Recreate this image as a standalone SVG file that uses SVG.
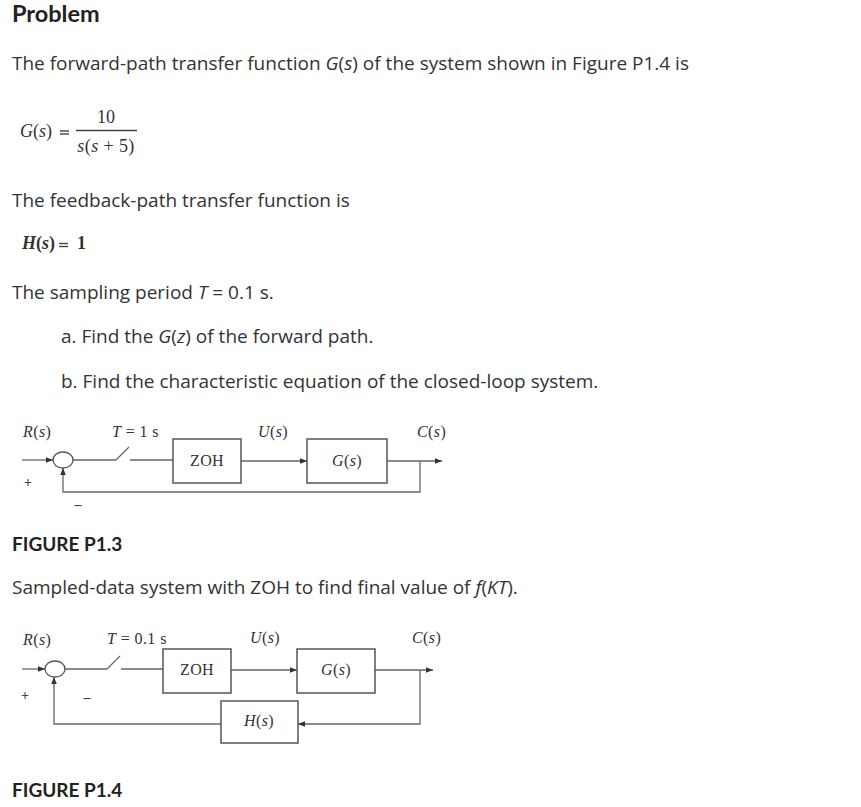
<svg xmlns="http://www.w3.org/2000/svg" width="861" height="807" viewBox="0 0 861 807">
<defs>
<marker id="ah" viewBox="0 0 10 10" refX="10" refY="5" markerWidth="7" markerHeight="7" markerUnits="userSpaceOnUse" orient="auto"><path d="M0,1 L10,5 L0,9 Z" fill="#333"/></marker>
</defs>
<style>
.body{font-family:"Open Sans",Lato,"Noto Sans",sans-serif;font-size:19px;fill:#333}
.bold{font-family:Lato,"Open Sans",sans-serif;font-size:19px;font-weight:bold;fill:#222}
.m{font-family:"Liberation Serif","DejaVu Serif",serif;font-size:18px;fill:#333}
.d{font-family:"Liberation Serif","DejaVu Serif",serif;font-size:16px;letter-spacing:0.4px;fill:#333}
.pm{font-family:"Liberation Serif","DejaVu Serif",serif;font-size:14px;font-weight:bold;fill:#444}
.i{font-style:italic}
.box{fill:#fff;stroke:#555;stroke-width:1.5}
.ln{fill:none;stroke:#666;stroke-width:1.3}
.eqb{stroke:#444;stroke-width:1.4}
</style>
<rect width="861" height="807" fill="#fff"/>
<text class="bold" x="12" y="22" style="font-size:23.5px">Problem</text>
<text class="body" x="12" y="70">The forward-path transfer function <tspan class="i">G</tspan>(<tspan class="i">s</tspan>) of the system shown in Figure P1.4 is</text>
<g id="eq-g">
<text class="m" x="20" y="137"><tspan class="i">G</tspan>(<tspan class="i">s</tspan>)</text>
<line class="eqb" x1="60" y1="131" x2="69" y2="131"/>
<line class="eqb" x1="60" y1="134" x2="69" y2="134"/>
<text class="m" x="106" y="123" text-anchor="middle">10</text>
<line x1="76" y1="130.5" x2="137" y2="130.5" stroke="#444" stroke-width="1.3"/>
<text class="m" x="106" y="152" text-anchor="middle" letter-spacing="0.4"><tspan class="i">s</tspan>(<tspan class="i">s</tspan> + 5)</text>
</g>
<text class="body" x="12" y="207">The feedback-path transfer function is</text>
<g id="eq-h">
<text class="m" x="22" y="249" style="font-weight:bold"><tspan class="i">H</tspan>(<tspan class="i">s</tspan>)</text>
<line class="eqb" x1="59" y1="243.5" x2="68" y2="243.5"/>
<line class="eqb" x1="59" y1="246.5" x2="68" y2="246.5"/>
<text class="m" x="77" y="249" style="font-weight:bold">1</text>
</g>
<text class="body" x="12" y="299">The sampling period <tspan class="i">T</tspan> = 0.1 s.</text>
<text class="body" x="61" y="343">a. Find the <tspan class="i">G</tspan>(<tspan class="i">z</tspan>) of the forward path.</text>
<text class="body" x="61" y="388">b. Find the characteristic equation of the closed-loop system.</text>

<!-- Figure P1.3 -->
<g id="fig13">
<g id="f13-connectors">
<line class="ln" x1="22" y1="460" x2="53" y2="460" marker-end="url(#ah)"/>
<line class="ln" x1="73" y1="460" x2="116" y2="460"/>
<line class="ln" x1="116" y1="460" x2="129" y2="447"/>
<line class="ln" x1="130" y1="460" x2="173" y2="460"/>
<line class="ln" x1="241" y1="461" x2="307" y2="461" marker-end="url(#ah)"/>
<line class="ln" x1="387" y1="461" x2="442" y2="461" marker-end="url(#ah)"/>
<polyline class="ln" points="420,461 420,492 63,492 63,468" marker-end="url(#ah)"/>
</g>
<g id="f13-sum"><ellipse cx="63" cy="460" rx="10" ry="8" fill="#fff" stroke="#555" stroke-width="1.3"/></g>
<g id="f13-zoh"><rect class="box" x="173" y="439" width="68" height="44"/><text class="d" x="207" y="466" text-anchor="middle">ZOH</text></g>
<g id="f13-g"><rect class="box" x="307" y="439" width="80" height="44"/><text class="d" x="347" y="466" text-anchor="middle"><tspan class="i">G</tspan>(<tspan class="i">s</tspan>)</text></g>
<text class="d" x="23" y="437"><tspan class="i">R</tspan>(<tspan class="i">s</tspan>)</text>
<text class="d" x="112" y="437"><tspan class="i">T</tspan> = 1 s</text>
<text class="d" x="258" y="437"><tspan class="i">U</tspan>(<tspan class="i">s</tspan>)</text>
<text class="d" x="417" y="437"><tspan class="i">C</tspan>(<tspan class="i">s</tspan>)</text>
<text class="pm" x="28" y="487" text-anchor="middle">+</text>
<text class="pm" x="78" y="509" text-anchor="middle">–</text>
</g>
<text class="bold" x="12" y="551">FIGURE P1.3</text>
<text class="body" x="12" y="594">Sampled-data system with ZOH to find final value of <tspan class="i">f</tspan>(<tspan class="i">KT</tspan>).</text>

<!-- Figure P1.4 -->
<g id="fig14">
<g id="f14-connectors">
<line class="ln" x1="22" y1="669" x2="45" y2="669" marker-end="url(#ah)"/>
<line class="ln" x1="65" y1="669" x2="107" y2="669"/>
<line class="ln" x1="107" y1="669" x2="120" y2="656"/>
<line class="ln" x1="121" y1="669" x2="163" y2="669"/>
<line class="ln" x1="231" y1="670" x2="297" y2="670" marker-end="url(#ah)"/>
<line class="ln" x1="375" y1="670" x2="433" y2="670" marker-end="url(#ah)"/>
<polyline class="ln" points="420,670 420,724 298,724" marker-end="url(#ah)"/>
<polyline class="ln" points="221,724 54,724 54,677" marker-end="url(#ah)"/>
</g>
<g id="f14-sum"><ellipse cx="55" cy="669" rx="10" ry="8" fill="#fff" stroke="#555" stroke-width="1.3"/></g>
<g id="f14-zoh"><rect class="box" x="163" y="649" width="68" height="44"/><text class="d" x="197" y="675" text-anchor="middle">ZOH</text></g>
<g id="f14-g"><rect class="box" x="297" y="649" width="78" height="44"/><text class="d" x="336" y="675" text-anchor="middle"><tspan class="i">G</tspan>(<tspan class="i">s</tspan>)</text></g>
<g id="f14-h"><rect class="box" x="221" y="701" width="77" height="42"/><text class="d" x="259" y="726" text-anchor="middle"><tspan class="i">H</tspan>(<tspan class="i">s</tspan>)</text></g>
<text class="d" x="23" y="645"><tspan class="i">R</tspan>(<tspan class="i">s</tspan>)</text>
<text class="d" x="107" y="644"><tspan class="i">T</tspan> = 0.1 s</text>
<text class="d" x="250" y="643"><tspan class="i">U</tspan>(<tspan class="i">s</tspan>)</text>
<text class="d" x="412" y="643"><tspan class="i">C</tspan>(<tspan class="i">s</tspan>)</text>
<text class="pm" x="25" y="700" text-anchor="middle">+</text>
<text class="pm" x="87" y="702" text-anchor="middle">–</text>
</g>
<text class="bold" x="12" y="797">FIGURE P1.4</text>
</svg>
